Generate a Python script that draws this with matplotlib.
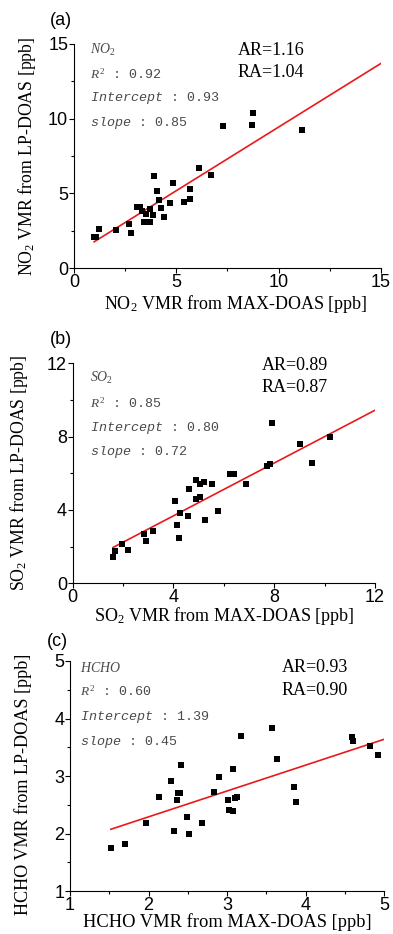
import numpy as np
import matplotlib
matplotlib.use('Agg')
import matplotlib.pyplot as plt
from matplotlib.ticker import MultipleLocator

plt.rcParams['mathtext.fontset'] = 'custom'
plt.rcParams['mathtext.rm'] = 'Liberation Serif'
plt.rcParams['mathtext.it'] = 'Liberation Serif:italic'
plt.rcParams['mathtext.tt'] = 'Liberation Mono:italic'

# panel (a) NO2
no2_max = [0.99, 1.10, 1.25, 2.08, 2.70, 2.80, 3.08, 3.22, 3.35, 3.44, 3.50, 3.71, 3.71,
           3.86, 3.90, 4.07, 4.17, 4.28, 4.41, 4.71, 4.85, 5.36, 5.67, 5.68, 6.12, 6.68,
           7.31, 8.70, 8.75, 11.16]
no2_lp = [2.09, 2.09, 2.60, 2.54, 2.94, 2.38, 4.07, 4.10, 3.85, 3.09, 3.65, 3.09, 3.96,
          3.54, 6.14, 5.14, 4.54, 4.03, 3.43, 4.36, 5.72, 4.45, 5.30, 4.63, 6.72, 6.21,
          9.53, 9.55, 10.37, 9.26]

# panel (b) SO2
so2_max = [1.60, 1.68, 1.94, 2.18, 2.82, 2.92, 3.17, 4.05, 4.13, 4.22, 4.25, 4.56, 4.60,
           4.88, 4.91, 5.05, 5.07, 5.20, 5.25, 5.53, 5.77, 6.23, 6.39, 6.89, 7.71, 7.83,
           7.90, 9.01, 9.51, 10.21]
so2_lp = [1.44, 1.75, 2.16, 1.80, 2.69, 2.33, 2.85, 4.49, 3.18, 2.49, 3.85, 3.69, 5.15,
          4.60, 5.62, 4.73, 5.40, 5.51, 3.45, 5.44, 3.96, 5.98, 5.96, 5.40, 6.42, 6.49,
          8.76, 7.60, 6.55, 8.00]

# panel (c) HCHO
hcho_max = [1.52, 1.70, 1.97, 2.13, 2.29, 2.33, 2.36, 2.37, 2.40, 2.41, 2.49, 2.52, 2.68,
            2.83, 2.90, 3.01, 3.02, 3.07, 3.07, 3.10, 3.12, 3.18, 3.57, 3.64, 3.85, 3.87,
            4.59, 4.60, 4.82, 4.92]
hcho_lp = [1.74, 1.82, 2.19, 2.63, 2.92, 2.04, 2.58, 2.70, 2.70, 3.19, 2.29, 1.99, 2.19,
           2.73, 2.99, 2.59, 2.41, 2.39, 3.13, 2.61, 2.63, 3.69, 3.84, 3.30, 2.81, 2.54,
           3.67, 3.61, 3.53, 3.37]

panels = [
    dict(x=no2_max, y=no2_lp, name='NO$_2$', gas=r'$NO_2$', r2='0.92', icpt=0.93, slope=0.85,
         ar='AR=1.16', ra='RA=1.04', lim=(0, 15), major=5, minor=2.5, tag='(a)'),
    dict(x=so2_max, y=so2_lp, name='SO$_2$', gas=r'$SO_2$', r2='0.85', icpt=0.80, slope=0.72,
         ar='AR=0.89', ra='RA=0.87', lim=(0, 12), major=4, minor=2, tag='(b)'),
    dict(x=hcho_max, y=hcho_lp, name='HCHO', gas=r'$HCHO$', r2='0.60', icpt=1.39, slope=0.45,
         ar='AR=0.93', ra='RA=0.90', lim=(1, 5), major=1, minor=0.5, tag='(c)'),
]

# axes rectangles (fig fraction) and text positions (axes fraction)
rects = [[0.188, 0.7127, 0.781, 0.2405],
         [0.185, 0.3755, 0.769, 0.2355],
         [0.178, 0.046, 0.800, 0.2463]]
note_pos = [(0.052, [0.972, 0.865, 0.758, 0.646]),
            (0.057, [0.933, 0.817, 0.705, 0.595]),
            (0.032, [0.968, 0.870, 0.758, 0.647])]
ar_pos = [(0.534, [0.972, 0.874]), (0.625, [0.989, 0.891]), (0.674, [0.972, 0.870])]
xlab_pos = [(0.529, -0.108), (0.50, -0.098), (0.50, -0.097)]
ylab_pos = [(-0.117, 0.5), (-0.141, 0.5), (-0.121, 0.465)]
label_size = [13, 13, 13.3]
tag_pos = [(0.127, 0.978), (0.127, 0.637), (0.119, 0.313)]

fig = plt.figure(figsize=(3.93, 9.34), dpi=100)
gray = '#4a4a4a'
for i, p in enumerate(panels):
    ax = fig.add_axes(rects[i])
    x = np.array(p['x'])
    y = np.array(p['y'])
    ax.scatter(x, y, marker='s', s=14, color='black', linewidths=0, zorder=3)
    xl = np.array([x.min(), p['lim'][1]])
    ax.plot(xl, p['icpt'] + p['slope'] * xl, color='#e8191c', lw=1.2, zorder=2)
    ax.set_xlim(p['lim'])
    ax.set_ylim(p['lim'])
    for s in ['top', 'right']:
        ax.spines[s].set_visible(False)
    for s in ['left', 'bottom']:
        ax.spines[s].set_linewidth(0.8)
    ax.xaxis.set_major_locator(MultipleLocator(p['major']))
    ax.yaxis.set_major_locator(MultipleLocator(p['major']))
    ax.xaxis.set_minor_locator(MultipleLocator(p['minor']))
    ax.yaxis.set_minor_locator(MultipleLocator(p['minor']))
    ax.tick_params(which='major', direction='out', length=3.5, width=0.8, pad=0.6)
    ax.tick_params(which='minor', direction='out', length=2, width=0.8)
    for lab in ax.get_xticklabels() + ax.get_yticklabels():
        lab.set_fontfamily('Liberation Sans')
        lab.set_fontsize(13)
    ax.set_xlabel(p['name'] + ' VMR from MAX-DOAS [ppb]', family='Liberation Serif',
                  fontsize=label_size[i])
    ax.set_ylabel(p['name'] + ' VMR from LP-DOAS [ppb]', family='Liberation Serif',
                  fontsize=label_size[i] - 0.2)
    ax.xaxis.set_label_coords(*xlab_pos[i])
    ax.yaxis.set_label_coords(*ylab_pos[i])

    nx, ny = note_pos[i]
    lines = [p['gas'], r'$R^2$ : ' + p['r2'],
             r'$\mathtt{Intercept}$ : ' + '%.2f' % p['icpt'],
             r'$\mathtt{slope}$ : ' + '%.2f' % p['slope']]
    for k, t in enumerate(lines):
        ax.text(nx, ny[k], t, transform=ax.transAxes, family='Liberation Mono',
                fontsize=9.6 if k else 10, color=gray, va='center', ha='left')
    ax_x, ax_y = ar_pos[i]
    for k, t in enumerate([p['ar'], p['ra']]):
        ax.text(ax_x, ax_y[k], t, transform=ax.transAxes, family='Liberation Serif',
                fontsize=13, color='black', va='center', ha='left')
    fig.text(*tag_pos[i], p['tag'], family='Liberation Sans', fontsize=13, ha='left', va='center')

fig.savefig('out.png', dpi=100)
plt.close(fig)
